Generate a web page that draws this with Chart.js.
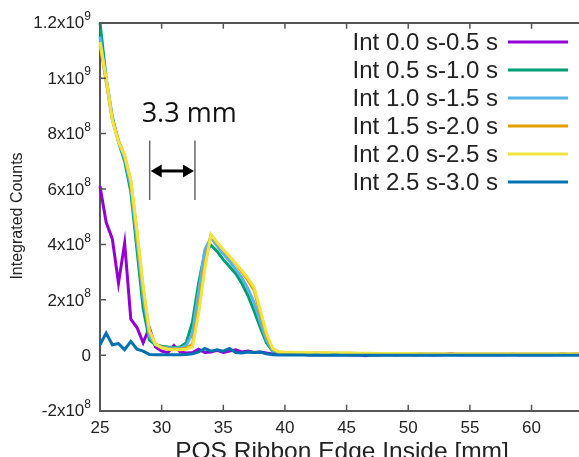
<!DOCTYPE html>
<html>
<head>
<meta charset="utf-8">
<script src="https://cdn.jsdelivr.net/npm/chart.js@4.4.0/dist/chart.umd.min.js"></script>
<style>
  html, body { margin: 0; padding: 0; background: #fff; }
  #wrap { width: 579px; height: 457px; position: relative; overflow: hidden; }
</style>
</head>
<body>
<div id="wrap"><canvas id="chart"></canvas></div>
<script>
// positions along the ribbon edge [mm]
const positions = [
  25, 25.5, 26, 26.5, 27, 27.5, 28, 28.5, 29, 29.5,
  30, 30.5, 31, 31.5, 32, 32.5, 33, 33.5, 34, 34.5,
  35, 35.5, 36, 36.5, 37, 37.5, 38, 38.5, 39, 39.5,
  40, 40.5, 41, 41.5, 42, 42.5, 43, 43.5, 44, 44.5,
  45, 45.5, 46, 46.5, 47, 47.5, 48, 48.5, 49, 49.5,
  50, 50.5, 51, 51.5, 52, 52.5, 53, 53.5, 54, 54.5,
  55, 55.5, 56, 56.5, 57, 57.5, 58, 58.5, 59, 59.5,
  60, 60.5, 61, 61.5, 62, 62.5, 63, 63.5, 64
];

// integrated counts, in units of 1e8
const int00_05 = [
  6.1, 4.8, 4.2, 2.6, 4.05, 1.3, 1.0, 0.45, 1.0, 0.3,
  0.15, 0.1, 0.35, 0.12, 0.08, 0.1, 0.22, 0.1, 0.12, 0.18,
  0.1, 0.15, 0.2, 0.12, 0.15, 0.1, 0.12, 0.08, 0.05, 0.04,
  0.04, 0.03, 0.04, 0.03, 0.02, 0.03, 0.02, 0.03, 0.02, 0.03,
  0.02, 0.01, 0.02, -0.02, 0.02, 0.01, 0.02, 0.02, 0.01, 0.02,
  0.02, 0.01, 0.02, 0.02, 0.01, 0.02, 0.03, 0.06, 0.02, 0.02,
  0.03, 0.02, 0.02, 0.03, 0.02, 0.02, 0.03, 0.04, 0.02, 0.02,
  0.03, 0.02, 0.03, 0.02, 0.03, 0.05, 0.03, 0.04, 0.03
];
const int05_10 = [
  12.0, 10.0, 8.6, 7.7, 7.0, 5.9, 3.8, 1.7, 0.55, 0.38,
  0.33, 0.3, 0.28, 0.3, 0.45, 1.2, 2.6, 3.7, 3.97, 3.75,
  3.45, 3.2, 2.95, 2.6, 2.15, 1.6, 1.0, 0.45, 0.15, 0.1,
  0.08, 0.07, 0.07, 0.07, 0.06, 0.06, 0.06, 0.06, 0.05, 0.05,
  0.05, 0.05, 0.05, 0.04, 0.04, 0.04, 0.04, 0.04, 0.04, 0.04,
  0.04, 0.04, 0.04, 0.03, 0.03, 0.03, 0.03, 0.03, 0.03, 0.03,
  0.03, 0.03, 0.03, 0.03, 0.03, 0.03, 0.03, 0.03, 0.03, 0.03,
  0.03, 0.03, 0.03, 0.03, 0.03, 0.03, 0.03, 0.03, 0.03
];
const int10_15 = [
  11.5, 9.9, 8.5, 7.7, 7.1, 6.1, 4.1, 2.1, 0.7, 0.38,
  0.3, 0.27, 0.25, 0.26, 0.35, 0.8, 2.3, 3.8, 4.25, 3.95,
  3.65, 3.4, 3.1, 2.8, 2.4, 1.9, 1.2, 0.55, 0.18, 0.1,
  0.09, 0.08, 0.08, 0.07, 0.07, 0.07, 0.06, 0.06, 0.06, 0.06,
  0.05, 0.05, 0.05, 0.05, 0.05, 0.05, 0.05, 0.04, 0.04, 0.04,
  0.04, 0.04, 0.04, 0.04, 0.04, 0.04, 0.04, 0.04, 0.04, 0.04,
  0.04, 0.04, 0.04, 0.04, 0.04, 0.04, 0.04, 0.04, 0.04, 0.04,
  0.04, 0.04, 0.04, 0.04, 0.04, 0.04, 0.04, 0.04, 0.04
];
const int15_20 = [
  11.2, 9.9, 8.5, 7.75, 7.2, 6.3, 4.4, 2.4, 0.85, 0.4,
  0.28, 0.24, 0.22, 0.22, 0.25, 0.4, 1.7, 3.3, 4.35, 4.05,
  3.8, 3.55, 3.3, 3.0, 2.7, 2.35, 1.5, 0.7, 0.22, 0.12,
  0.1, 0.1, 0.09, 0.09, 0.09, 0.08, 0.08, 0.08, 0.07, 0.07,
  0.07, 0.07, 0.06, 0.06, 0.06, 0.06, 0.06, 0.06, 0.05, 0.05,
  0.05, 0.05, 0.05, 0.05, 0.05, 0.05, 0.05, 0.05, 0.05, 0.05,
  0.05, 0.05, 0.05, 0.05, 0.05, 0.05, 0.05, 0.05, 0.05, 0.05,
  0.05, 0.05, 0.05, 0.05, 0.05, 0.05, 0.05, 0.05, 0.05
];
const int20_25 = [
  11.3, 10.0, 8.5, 7.7, 7.2, 6.3, 4.5, 2.5, 0.9, 0.4,
  0.27, 0.22, 0.2, 0.2, 0.22, 0.3, 1.5, 3.1, 4.35, 4.08,
  3.82, 3.57, 3.32, 3.06, 2.78, 2.45, 1.65, 0.8, 0.25, 0.13,
  0.11, 0.11, 0.1, 0.1, 0.1, 0.09, 0.09, 0.09, 0.08, 0.08,
  0.08, 0.07, 0.07, 0.07, 0.07, 0.06, 0.06, 0.06, 0.06, 0.06,
  0.06, 0.06, 0.05, 0.05, 0.05, 0.05, 0.05, 0.05, 0.05, 0.05,
  0.05, 0.05, 0.05, 0.05, 0.05, 0.05, 0.05, 0.05, 0.05, 0.05,
  0.05, 0.05, 0.05, 0.05, 0.05, 0.05, 0.05, 0.05, 0.05
];
const int25_30 = [
  0.38, 0.8, 0.38, 0.42, 0.2, 0.5, 0.22, 0.15, 0.03, 0.02,
  0.02, 0.02, 0.02, 0.02, 0.03, 0.05, 0.12, 0.25, 0.15, 0.2,
  0.15, 0.25, 0.1, 0.08, 0.12, 0.1, 0.12, 0.05, 0.02, 0.01,
  0.01, 0.01, 0.01, 0.01, 0.0, 0.01, 0.0, 0.0, 0.01, 0.0,
  0.0, 0.0, 0.0, 0.0, 0.0, 0.0, 0.0, 0.0, 0.0, 0.0,
  0.0, 0.0, 0.0, 0.0, 0.0, 0.0, 0.0, 0.0, 0.0, 0.0,
  0.0, 0.0, 0.0, 0.0, 0.0, 0.0, 0.0, 0.0, 0.0, 0.0,
  0.0, 0.0, 0.0, 0.0, 0.0, 0.0, 0.0, 0.0, 0.0
];

const seriesLabels = [
  'Int 0.0 s-0.5 s', 'Int 0.5 s-1.0 s', 'Int 1.0 s-1.5 s',
  'Int 1.5 s-2.0 s', 'Int 2.0 s-2.5 s', 'Int 2.5 s-3.0 s'
];
const seriesValues = [int00_05, int05_10, int10_15, int15_20, int20_25, int25_30];
const seriesColors = ['#9400d3', '#009e73', '#56b4e9', '#e69f00', '#f0e442', '#0072b2'];

// axis ticks
const xTickValues = [25, 30, 35, 40, 45, 50, 55, 60];
const yTickValues = [-2, 0, 2, 4, 6, 8, 10, 12];
const yTickBase = ['-2x10', '0', '2x10', '4x10', '6x10', '8x10', '1x10', '1.2x10'];
const yTickExp = ['8', '', '8', '8', '8', '8', '9', '9'];

// 3.3 mm marker (data units)
const markerX = [29.03, 32.7];
const markerY = [5.6, 7.75];
const arrowY = 6.65;
const markerText = '3.3 mm';
const markerTextPos = [28.38, 8.4];

const AXIS_COLOR = '#555';
const TEXT_COLOR = '#222';
const FONT = '"Liberation Sans", Arial, sans-serif';

// Draws inward ticks, y labels with superscripts, titles, legend and marker
const decorPlugin = {
  id: 'decor',
  afterDraw(chart) {
    const ctx = chart.ctx;
    const xs = chart.scales.x;
    const ys = chart.scales.y;
    const area = chart.chartArea;

    ctx.save();
    // inward tick marks
    ctx.strokeStyle = AXIS_COLOR;
    ctx.lineWidth = 1.5;
    ctx.beginPath();
    xTickValues.forEach(v => {
      const px = xs.getPixelForValue(v);
      ctx.moveTo(px, area.bottom);
      ctx.lineTo(px, area.bottom - 6);
      ctx.moveTo(px, area.top);
      ctx.lineTo(px, area.top + 6);
    });
    yTickValues.forEach(v => {
      const py = ys.getPixelForValue(v);
      ctx.moveTo(area.left, py);
      ctx.lineTo(area.left + 6, py);
    });
    ctx.stroke();

    // y tick labels with superscript exponent
    ctx.fillStyle = TEXT_COLOR;
    ctx.textBaseline = 'middle';
    ctx.textAlign = 'right';
    const right = area.left - 9;
    yTickValues.forEach((v, i) => {
      const py = ys.getPixelForValue(v);
      ctx.font = '12px ' + FONT;
      const expW = yTickExp[i] ? ctx.measureText(yTickExp[i]).width : 0;
      if (yTickExp[i]) ctx.fillText(yTickExp[i], right, py - 6);
      ctx.font = '17px ' + FONT;
      ctx.fillText(yTickBase[i], right - expW, py + 1);
    });

    // y axis title
    ctx.save();
    ctx.translate(18, 216);
    ctx.rotate(-Math.PI / 2);
    ctx.textAlign = 'center';
    ctx.font = '16px ' + FONT;
    ctx.fillText('Integrated Counts', 0, 0);
    ctx.restore();

    // x axis title (runs off the bottom edge like the original)
    ctx.textAlign = 'center';
    ctx.textBaseline = 'alphabetic';
    ctx.font = '24.5px ' + FONT;
    ctx.fillText('POS Ribbon Edge Inside [mm]', 342, 459);

    // legend, text right-aligned with sample line to the right
    ctx.font = '24px ' + FONT;
    ctx.textAlign = 'right';
    ctx.textBaseline = 'middle';
    seriesLabels.forEach((label, i) => {
      const ry = 42 + i * 28;
      ctx.fillStyle = TEXT_COLOR;
      ctx.fillText(label, 498, ry + 1);
      ctx.strokeStyle = seriesColors[i];
      ctx.lineWidth = 3;
      ctx.beginPath();
      ctx.moveTo(508, ry);
      ctx.lineTo(568, ry);
      ctx.stroke();
    });

    // 3.3 mm marker
    ctx.strokeStyle = '#666';
    ctx.lineWidth = 1.5;
    ctx.beginPath();
    markerX.forEach(v => {
      const px = xs.getPixelForValue(v);
      ctx.moveTo(px, ys.getPixelForValue(markerY[0]));
      ctx.lineTo(px, ys.getPixelForValue(markerY[1]));
    });
    ctx.stroke();
    const ax0 = xs.getPixelForValue(markerX[0]) + 1;
    const ax1 = xs.getPixelForValue(markerX[1]) - 1;
    const ay = ys.getPixelForValue(arrowY);
    ctx.strokeStyle = '#000';
    ctx.fillStyle = '#000';
    ctx.lineWidth = 3;
    ctx.beginPath();
    ctx.moveTo(ax0 + 8, ay);
    ctx.lineTo(ax1 - 8, ay);
    ctx.stroke();
    ctx.beginPath();
    ctx.moveTo(ax0, ay);
    ctx.lineTo(ax0 + 11, ay - 6.5);
    ctx.lineTo(ax0 + 11, ay + 6.5);
    ctx.closePath();
    ctx.moveTo(ax1, ay);
    ctx.lineTo(ax1 - 11, ay - 6.5);
    ctx.lineTo(ax1 - 11, ay + 6.5);
    ctx.closePath();
    ctx.fill();

    ctx.font = '27px "Open Sans", ' + FONT;
    ctx.textAlign = 'left';
    ctx.textBaseline = 'alphabetic';
    ctx.fillStyle = '#111';
    ctx.fillText(markerText, xs.getPixelForValue(markerTextPos[0]), ys.getPixelForValue(markerTextPos[1]));
    ctx.restore();
  }
};

document.addEventListener('DOMContentLoaded', function() {
  const canvas = document.getElementById('chart');
  canvas.width = 579;
  canvas.height = 457;

  const datasets = seriesLabels.map((label, i) => ({
    label: label,
    data: positions.map((x, j) => ({ x: x, y: seriesValues[i][j] })),
    borderColor: seriesColors[i],
    backgroundColor: seriesColors[i],
    borderWidth: 3,
    pointRadius: 0,
    tension: 0,
    clip: 4,
    order: seriesLabels.length - i
  }));

  new Chart(canvas, {
    type: 'line',
    data: { datasets: datasets },
    plugins: [decorPlugin],
    options: {
      responsive: false,
      animation: false,
      devicePixelRatio: 1,
      layout: { padding: 0 },
      plugins: {
        legend: { display: false },
        tooltip: { enabled: false }
      },
      scales: {
        x: {
          type: 'linear',
          position: 'bottom',
          min: 25,
          max: 63.85,
          afterBuildTicks: s => { s.ticks = xTickValues.map(v => ({ value: v })); },
          afterFit: s => { s.height = 46.3; },
          grid: { display: false, drawTicks: false },
          border: { display: true, color: AXIS_COLOR, width: 2 },
          ticks: {
            color: TEXT_COLOR,
            font: { family: FONT, size: 17 },
            padding: 7,
            maxRotation: 0,
            autoSkip: false
          }
        },
        x2: {
          type: 'linear',
          position: 'top',
          min: 25,
          max: 63.85,
          afterFit: s => { s.height = 22.7; },
          grid: { display: false, drawTicks: false },
          border: { display: true, color: AXIS_COLOR, width: 2 },
          ticks: { display: false }
        },
        y: {
          min: -2,
          max: 12,
          afterBuildTicks: s => { s.ticks = yTickValues.map(v => ({ value: v })); },
          afterFit: s => { s.width = 100; },
          grid: { display: false, drawTicks: false },
          border: { display: true, color: AXIS_COLOR, width: 2 },
          ticks: { display: false }
        }
      }
    }
  });
});
</script>
</body>
</html>
